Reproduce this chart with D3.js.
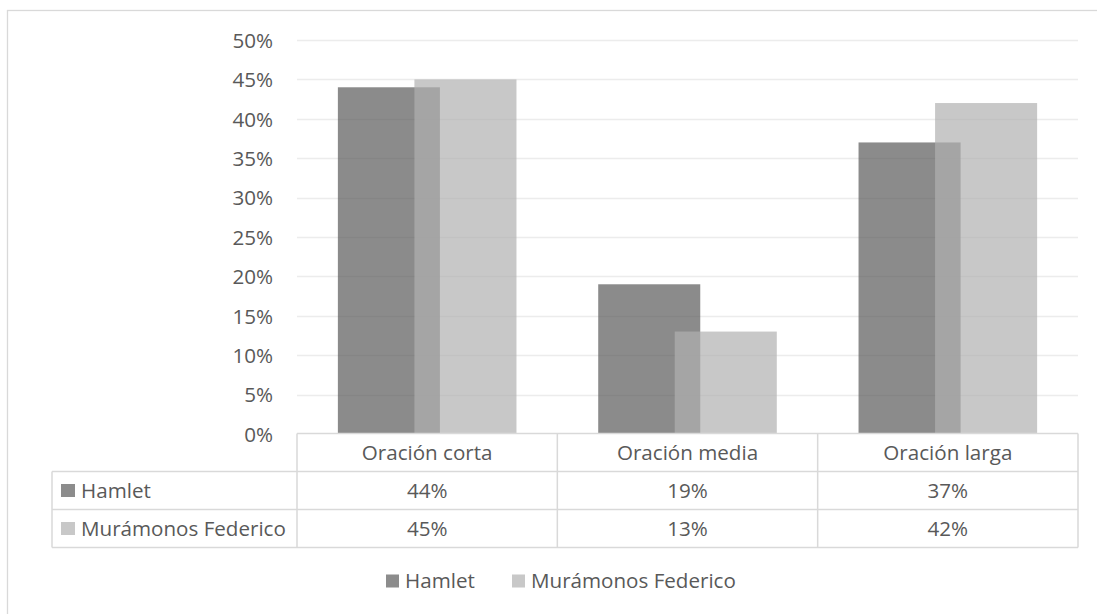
<!DOCTYPE html>
<html>
<head>
<meta charset="utf-8">
<script src="https://cdn.jsdelivr.net/npm/d3@7"></script>
<style>
  html, body { margin: 0; padding: 0; background: #fff; }
  svg { display: block; }
  text { font-family: "Open Sans", sans-serif; fill: #595959; }
</style>
</head>
<body>
<svg id="chart" width="1097" height="614"></svg>
<script>
// Data
const categories = ["Oración corta", "Oración media", "Oración larga"];
const seriesNames = ["Hamlet", "Murámonos Federico"];
const hamlet = [0.44, 0.19, 0.37];
const muramonos = [0.45, 0.13, 0.42];
const yTicks = [0, 0.05, 0.10, 0.15, 0.20, 0.25, 0.30, 0.35, 0.40, 0.45, 0.50];

const seriesValues = [hamlet, muramonos];
const seriesFill = ["#5a5a5a", "#b1b1b1"];
const swatchColor = ["#8c8c8c", "#c8c8c8"];

const svg = d3.select("#chart");
const fontSize = 20.6;

// Frame around the chart
svg.append("rect")
  .attr("x", 7.5).attr("y", 10.5)
  .attr("width", 1200).attr("height", 700)
  .attr("fill", "none").attr("stroke", "#d9d9d9").attr("stroke-width", 1.3);

// Plot area
const plotLeft = 297, plotRight = 1078, plotTop = 40, plotBottom = 434;
const x = d3.scaleBand().domain(categories).range([plotLeft, plotRight]).padding(0);
const y = d3.scaleLinear().domain([0, 0.5]).range([plotBottom, plotTop]);

const bw = x.bandwidth() * 0.392;       // bar width
const step = bw * 0.75;                 // overlapping bars (25% overlap)
const groupW = bw + step;

// Gridlines
svg.append("g")
  .selectAll("line")
  .data(yTicks.slice(1))
  .join("line")
  .attr("x1", plotLeft).attr("x2", plotRight)
  .attr("y1", d => Math.round(y(d)) + 0.5)
  .attr("y2", d => Math.round(y(d)) + 0.5)
  .attr("stroke", "#ececec").attr("stroke-width", 1.3);

// Y axis labels
const yAxis = d3.axisLeft(y).tickValues(yTicks).tickFormat(d3.format(".0%")).tickSize(0).tickPadding(0);
const yg = svg.append("g").attr("transform", `translate(${273},0)`).call(yAxis);
yg.select(".domain").remove();
yg.selectAll("text")
  .attr("font-family", "Open Sans, sans-serif")
  .attr("font-size", fontSize)
  .attr("fill", "#595959")
  .attr("dy", "0.35em");

// Bars
seriesValues.forEach((vals, si) => {
  svg.append("g")
    .selectAll("rect")
    .data(vals)
    .join("rect")
    .attr("x", (d, i) => x(categories[i]) + x.bandwidth() / 2 - groupW / 2 + si * step)
    .attr("y", d => y(d))
    .attr("width", bw)
    .attr("height", d => y(0) - y(d))
    .attr("fill", seriesFill[si])
    .attr("fill-opacity", 0.7);
});

// Data table
const rowH = 38;
const tableTop = 433.5;
const labelLeft = 52;
const lineColor = "#d9d9d9";
const tg = svg.append("g");

// horizontal lines
tg.append("line").attr("x1", plotLeft).attr("x2", plotRight).attr("y1", tableTop).attr("y2", tableTop)
  .attr("stroke", lineColor).attr("stroke-width", 1.5);
[1, 2, 3].forEach(r => {
  tg.append("line").attr("x1", labelLeft).attr("x2", plotRight)
    .attr("y1", tableTop + r * rowH).attr("y2", tableTop + r * rowH)
    .attr("stroke", lineColor).attr("stroke-width", 1.5);
});
// vertical lines
tg.append("line").attr("x1", labelLeft).attr("x2", labelLeft)
  .attr("y1", tableTop + rowH).attr("y2", tableTop + 3 * rowH)
  .attr("stroke", lineColor).attr("stroke-width", 1.5);
const colEdges = categories.map(c => x(c)).concat([plotRight]);
colEdges.forEach(cx => {
  tg.append("line").attr("x1", cx).attr("x2", cx)
    .attr("y1", tableTop).attr("y2", tableTop + 3 * rowH)
    .attr("stroke", lineColor).attr("stroke-width", 1.5);
});

// header row
tg.selectAll("text.hdr")
  .data(categories)
  .join("text")
  .attr("class", "hdr")
  .attr("x", d => x(d) + x.bandwidth() / 2)
  .attr("y", tableTop + rowH / 2)
  .attr("dy", "0.35em")
  .attr("text-anchor", "middle")
  .attr("font-size", fontSize)
  .text(d => d);

// series rows
seriesNames.forEach((name, si) => {
  const cy = tableTop + (si + 1) * rowH + rowH / 2;
  tg.append("rect")
    .attr("x", 61).attr("y", cy - 6.5)
    .attr("width", 14).attr("height", 13)
    .attr("fill", swatchColor[si]);
  tg.append("text")
    .attr("x", 81).attr("y", cy).attr("dy", "0.35em")
    .attr("font-size", fontSize)
    .text(name);
  tg.selectAll(null)
    .data(seriesValues[si])
    .join("text")
    .attr("x", (d, i) => x(categories[i]) + x.bandwidth() / 2)
    .attr("y", cy).attr("dy", "0.35em")
    .attr("text-anchor", "middle")
    .attr("font-size", fontSize)
    .text(d => d3.format(".0%")(d));
});

// Legend
const legendY = 581;
const lg = svg.append("g");
const legendX = [386, 512];
seriesNames.forEach((name, si) => {
  lg.append("rect")
    .attr("x", legendX[si]).attr("y", legendY - 6.5)
    .attr("width", 13).attr("height", 13)
    .attr("fill", swatchColor[si]);
  lg.append("text")
    .attr("x", legendX[si] + 19).attr("y", legendY).attr("dy", "0.35em")
    .attr("font-size", fontSize)
    .text(name);
});
</script>
</body>
</html>
